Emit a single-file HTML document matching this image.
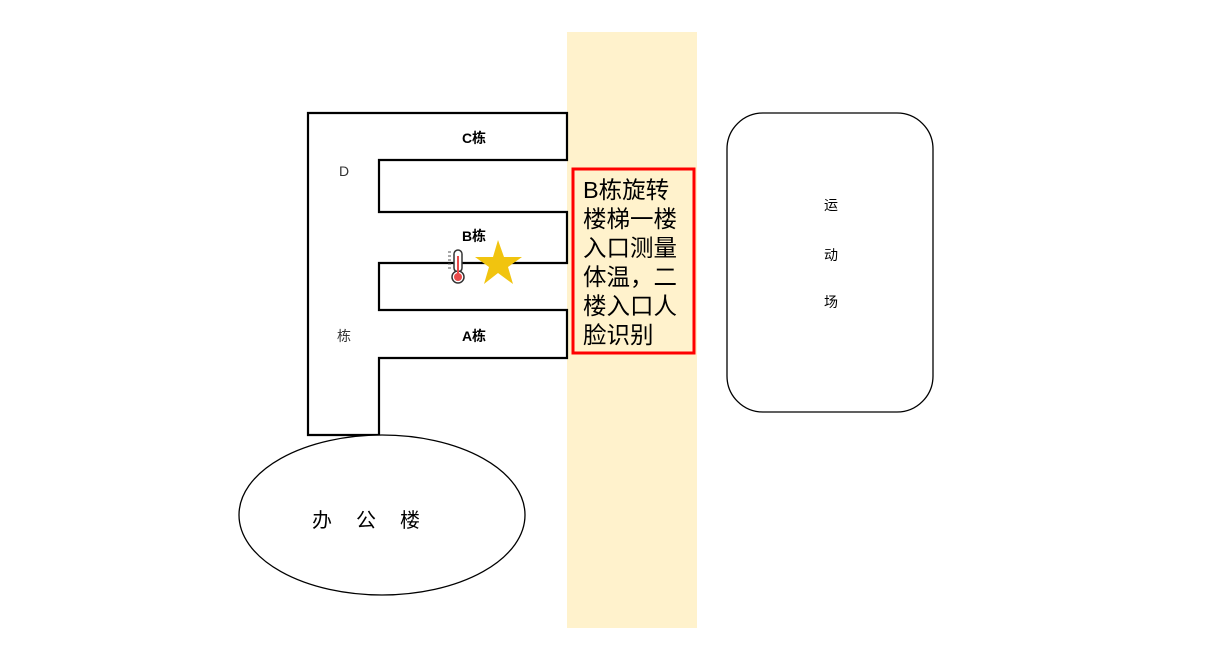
<!DOCTYPE html>
<html><head><meta charset="utf-8"><style>
body{margin:0;background:#fff;}
svg{display:block}
text{font-family:"Liberation Sans","Noto Sans CJK SC",sans-serif;}
</style></head><body>
<svg width="1206" height="662" viewBox="0 0 1206 662">
<rect x="567" y="32" width="130" height="596" fill="#fff2cc"/>
<polygon points="308,113 567,113 567,160 379,160 379,212 567,212 567,263 379,263 379,310 567,310 567,358 379,358 379,435 308,435" fill="#fff" stroke="#000" stroke-width="2.2"/>
<text x="474" y="143" font-size="14" font-weight="bold" text-anchor="middle">C栋</text>
<text x="474" y="241" font-size="14" font-weight="bold" text-anchor="middle">B栋</text>
<text x="474" y="341" font-size="14" font-weight="bold" text-anchor="middle">A栋</text>
<text x="344" y="176" font-size="14" text-anchor="middle" fill="#333">D</text>
<text x="344" y="341" font-size="14" text-anchor="middle" fill="#333">栋</text>
<rect x="454" y="250" width="8" height="22" rx="4" fill="#fff" stroke="#333" stroke-width="1.5"/>
<circle cx="458" cy="277" r="6" fill="#fff" stroke="#333" stroke-width="1.5"/>
<circle cx="458" cy="277" r="4" fill="#e84a4a"/>
<rect x="457" y="256" width="2" height="20" fill="#e84a4a"/>
<line x1="448" y1="252" x2="451" y2="252" stroke="#555"/>
<line x1="448" y1="256" x2="451" y2="256" stroke="#555"/>
<line x1="448" y1="260" x2="451" y2="260" stroke="#555"/>
<line x1="448" y1="264" x2="451" y2="264" stroke="#555"/>
<line x1="448" y1="268" x2="451" y2="268" stroke="#555"/>
<polygon points="498,240 504,257 522,257 508,267 513,284 498,273 484,284 489,267 475,257 493,257" fill="#f1c40f"/>
<rect x="573" y="169" width="121" height="184" fill="#fff2cc" stroke="#f00" stroke-width="3"/>
<g font-size="23.5" fill="#000">
<text x="583" y="198">B栋旋转</text>
<text x="583" y="227">楼梯一楼</text>
<text x="583" y="256">入口测量</text>
<text x="583" y="285">体温，二</text>
<text x="583" y="314">楼入口人</text>
<text x="583" y="343">脸识别</text>
</g>
<ellipse cx="382" cy="515" rx="143" ry="80" fill="#fff" stroke="#000" stroke-width="1.3"/>
<text x="312" y="527" font-size="20" letter-spacing="24">办公楼</text>
<rect x="727" y="113" width="206" height="299" rx="36" fill="#fff" stroke="#000" stroke-width="1.3"/>
<text x="831" y="210" font-size="14" text-anchor="middle">运</text>
<text x="831" y="260" font-size="14" text-anchor="middle">动</text>
<text x="831" y="307" font-size="14" text-anchor="middle">场</text>
</svg>
</body></html>
